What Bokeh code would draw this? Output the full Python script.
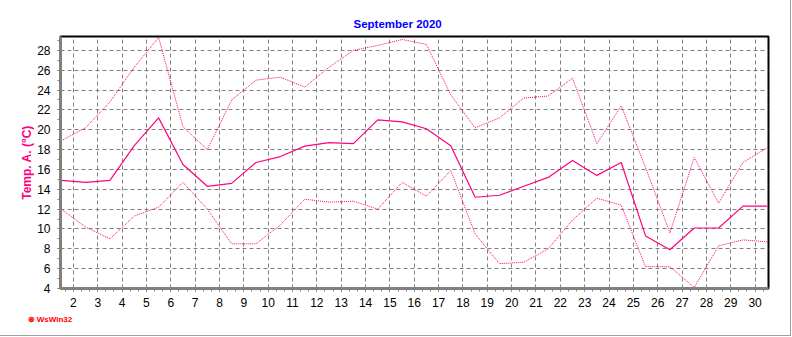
from bokeh.plotting import figure
from bokeh.models import Range1d, SingleIntervalTicker, Title
from bokeh.embed import file_html
from bokeh.resources import INLINE

days = [d + 0.5 for d in range(1, 31)]
t_max = [18.9, 20.2, 22.8, 26.3, 29.3, 20.3, 18.0, 23.0, 25.0, 25.3,
         24.3, 26.3, 28.0, 28.5, 29.1, 28.6, 23.5, 20.2, 21.2, 23.2,
         23.4, 25.2, 18.6, 22.4, 16.2, 9.6, 17.2, 12.6, 16.7, 18.2]
t_mean = [14.9, 14.7, 14.9, 18.4, 21.2, 16.5, 14.3, 14.6, 16.7, 17.3,
          18.35, 18.7, 18.6, 21.0, 20.8, 20.1, 18.4, 13.2, 13.4, 14.3,
          15.2, 16.9, 15.4, 16.7, 9.3, 7.9, 10.1, 10.1, 12.3, 12.3]
t_min = [12.0, 10.2, 9.0, 11.3, 12.2, 14.7, 12.0, 8.5, 8.5, 10.4,
         13.0, 12.7, 12.8, 12.0, 14.7, 13.3, 15.9, 9.5, 6.5, 6.65,
         8.0, 10.9, 13.1, 12.4, 6.2, 6.2, 4.1, 8.3, 8.9, 8.7]

color = "#FF0080"
font = "Liberation Sans"

p = figure(width=791, height=336, output_backend="svg", toolbar_location=None,
           x_range=Range1d(1.47, 30.55), y_range=Range1d(4, 29.4),
           min_border_left=60, min_border_right=23, min_border_top=36,
           min_border_bottom=48)
p.styles = {"border-right": "1px solid #a0a0a0",
            "border-bottom": "1px solid #a0a0a0"}

title = Title(text="September 2020", align="left", offset=293,
              text_color="#0000FF", text_font=font, text_font_size="11.5px",
              text_font_style="bold", standoff=13)
p.add_layout(title, "above")

ylab = Title(text="Temp. A. (°C)", align="center", offset=0,
             text_color=color, text_font=font, text_font_size="12px",
             text_font_style="bold", standoff=2)
p.add_layout(ylab, "left")

logo = Title(text="\u229b WsWin32", align="left", offset=-33,
             text_color="#FF0000", text_font=font, text_font_size="8px",
             text_font_style="bold", standoff=7)
p.add_layout(logo, "below")

p.line(days, t_max, line_color=color, line_width=1, line_dash="1 1")
p.line(days, t_min, line_color=color, line_width=1, line_dash="1 1")
p.line(days, t_mean, line_color=color, line_width=1.2)

p.xaxis.ticker = SingleIntervalTicker(interval=1, num_minor_ticks=3)
p.yaxis.ticker = SingleIntervalTicker(interval=2, num_minor_ticks=2)

for ax in (p.xaxis[0], p.yaxis[0]):
    ax.axis_line_color = "#808080"
    ax.axis_line_width = 3
    ax.major_tick_line_color = "#808080"
    ax.minor_tick_line_color = "#808080"
    ax.major_tick_in = 0
    ax.major_tick_out = 3
    ax.minor_tick_in = 0
    ax.minor_tick_out = 3
    ax.major_label_text_font = font
    ax.major_label_text_font_size = "12px"
    ax.major_label_text_color = "black"
p.xaxis.major_label_standoff = 6
p.yaxis.major_label_standoff = 7

p.xgrid.ticker = p.xaxis[0].ticker
p.ygrid.ticker = p.yaxis[0].ticker
p.grid.grid_line_color = "#808080"
p.grid.grid_line_dash = "4 3"
p.grid.grid_line_width = 1

p.outline_line_color = "black"
p.outline_line_width = 2
p.background_fill_color = "white"
p.border_fill_color = "white"

open("out.html", "w").write(file_html(p, INLINE))
